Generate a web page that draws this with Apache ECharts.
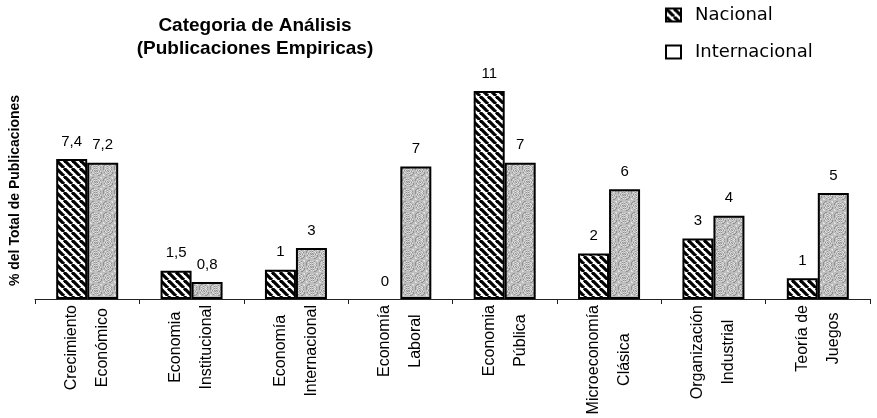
<!DOCTYPE html>
<html><head><meta charset="utf-8">
<script src="https://cdn.jsdelivr.net/npm/echarts@6/dist/echarts.min.js"></script>
<style>html,body{margin:0;padding:0;background:#fff}#c{width:877px;height:418px}</style>
</head><body><div id="c"></div>
<script>
// ---- data ----
const categories = ['Crecimiento\nEconómico', 'Economia\nInstitucional', 'Economía\nInternacional', 'Economía\nLaboral', 'Economia\nPública', 'Microeconomía\nClásica', 'Organización\nIndustrial', 'Teoría de\nJuegos'];
const seriesNames = ['Nacional', 'Internacional'];
const nacional = [7.4, 1.5, 1.55, 0, 11, 2.4, 3.2, 1.1];
const internacional = [7.2, 0.9, 2.7, 7.0, 7.2, 5.8, 4.4, 5.6];
const nacionalLabels = ['7,4', '1,5', '1', '0', '11', '2', '3', '1'];
const internacionalLabels = ['7,2', '0,8', '3', '7', '7', '6', '4', '5'];
const titleLines = ['Categoria de Análisis', '(Publicaciones Empiricas)'];
const yAxisTitle = '% del Total de Publicaciones';

// ---- fill textures ----
function hatchCanvas() {
  const c = document.createElement('canvas');
  c.width = 8; c.height = 8;
  const g = c.getContext('2d');
  g.fillStyle = '#fff'; g.fillRect(0, 0, 8, 8);
  g.strokeStyle = '#000'; g.lineWidth = 3.2;
  for (const k of [-8, 0, 8]) {
    g.beginPath(); g.moveTo(k, 0); g.lineTo(k + 8, 8); g.stroke();
  }
  return c;
}
function speckleCanvas() {
  const n = 24;
  const c = document.createElement('canvas');
  c.width = n; c.height = n;
  const g = c.getContext('2d');
  g.fillStyle = '#bdbdbd'; g.fillRect(0, 0, n, n);
  for (let y = 0; y < n; y++) {
    for (let x = 0; x < n; x++) {
      const h = ((x * 73 + y * 151 + x * y * 17) % 11);
      if (h === 0 || h === 5) { g.fillStyle = '#909090'; g.fillRect(x, y, 1, 1); }
      else if (h === 3 || h === 8) { g.fillStyle = '#e2e2e2'; g.fillRect(x, y, 1, 1); }
    }
  }
  return c;
}
const hatch = { image: hatchCanvas(), repeat: 'repeat' };
const speckle = { image: speckleCanvas(), repeat: 'repeat' };

const labelFont = '"Liberation Sans Narrow", "Liberation Sans", Arial, sans-serif';
const sansFont = '"Liberation Sans", Arial, sans-serif';

const toItems = arr => arr.map(v => v === 0 ? { value: v, itemStyle: { borderWidth: 0 } } : v);

const chart = echarts.init(document.getElementById('c'), null, { renderer: 'canvas' });
chart.setOption({
  backgroundColor: '#fff',
  animation: false,
  title: {
    text: titleLines.join('\n'),
    left: 255, top: 14, padding: 0, textAlign: 'center',
    textStyle: { fontFamily: sansFont, fontWeight: 'bold', fontSize: 19, lineHeight: 23, color: '#000' }
  },
  legend: {
    orient: 'vertical', left: 665, top: 6, padding: 0,
    icon: 'rect',
    itemWidth: 15, itemHeight: 13, itemGap: 19,
    itemStyle: { borderColor: '#000', borderWidth: 2 },
    textStyle: { fontFamily: '"DejaVu Sans", sans-serif', fontSize: 18, lineHeight: 18, color: '#000', padding: [0, 0, 0, 9] },
    data: [
      { name: seriesNames[0], icon: 'rect' },
      { name: seriesNames[1], icon: 'rect', itemStyle: { color: '#fff' } }
    ]
  },
  grid: { left: 32, right: 7, top: 72, bottom: 119, containLabel: false },
  xAxis: {
    type: 'category',
    data: categories,
    axisLine: { show: true, lineStyle: { color: '#222', width: 1 } },
    axisTick: { show: true, interval: 0, length: 5, alignWithLabel: false, lineStyle: { color: '#222' } },
    axisLabel: {
      interval: 0, rotate: 90, margin: 6, color: '#000',
      formatter: v => v.split('\n').map(s => '{c|' + s + '}').join('\n'),
      rich: { c: { align: 'center', fontFamily: sansFont, fontSize: 16, lineHeight: 31, color: '#000' } }
    }
  },
  yAxis: {
    type: 'value', min: 0, max: 12,
    axisLine: { show: false }, axisTick: { show: false }, axisLabel: { show: false }, splitLine: { show: false },
    name: yAxisTitle, nameLocation: 'middle', nameRotate: 90, nameGap: 13,
    nameTextStyle: { fontFamily: sansFont, fontWeight: 'bold', fontSize: 14, color: '#000', padding: [0, 10, 0, 0] }
  },
  series: [
    {
      name: seriesNames[0], type: 'bar', data: toItems(nacional), barWidth: 31, barGap: '0%',
      itemStyle: { color: hatch, borderColor: '#000', borderWidth: 2 },
      label: { show: true, position: 'top', distance: 10, fontFamily: labelFont, fontSize: 15, color: '#000',
        formatter: p => nacionalLabels[p.dataIndex] }
    },
    {
      name: seriesNames[1], type: 'bar', data: toItems(internacional), barWidth: 31, barGap: '0%',
      itemStyle: { color: speckle, borderColor: '#000', borderWidth: 2 },
      label: { show: true, position: 'top', distance: 10, fontFamily: labelFont, fontSize: 15, color: '#000',
        formatter: p => internacionalLabels[p.dataIndex] }
    }
  ]
});
</script>
</body></html>
